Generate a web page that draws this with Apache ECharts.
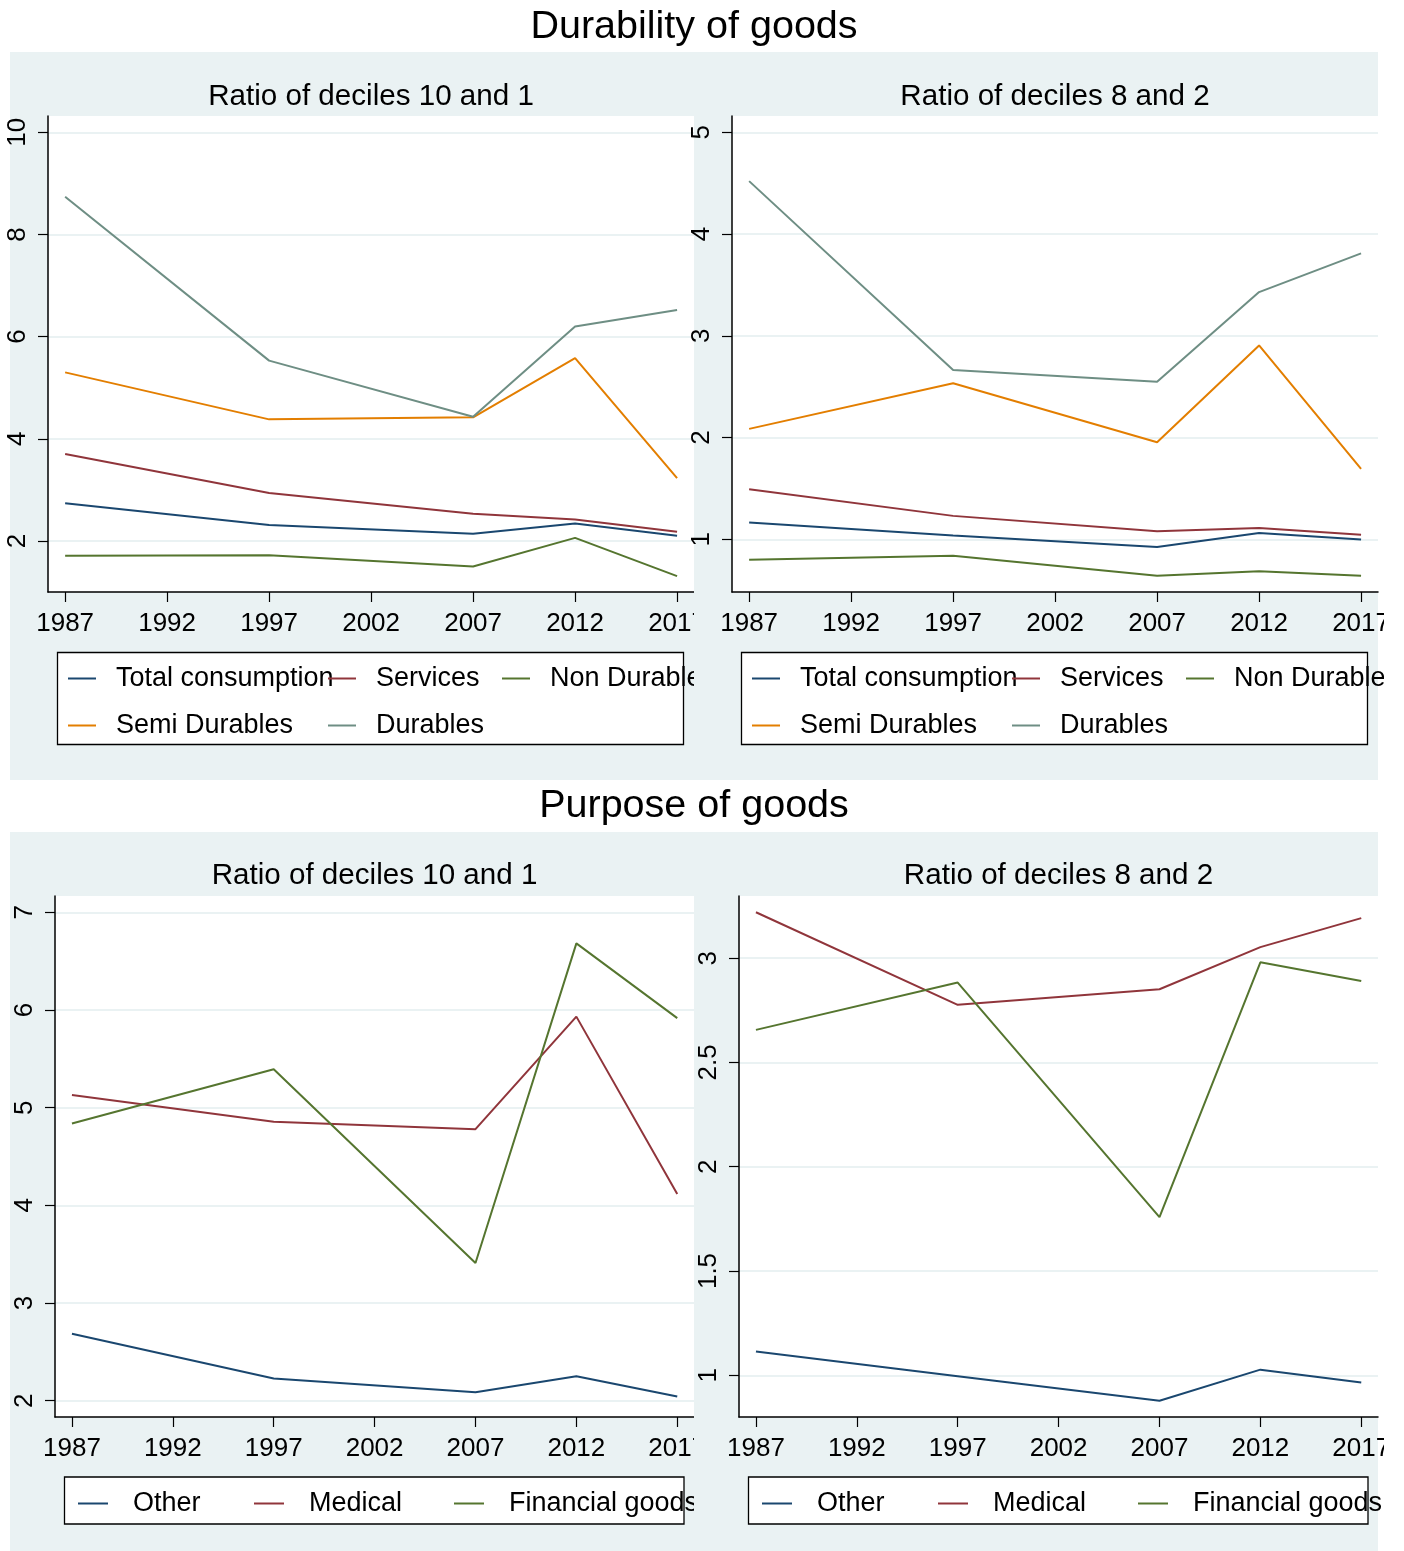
<!DOCTYPE html>
<html><head><meta charset="utf-8">
<script src="https://cdn.jsdelivr.net/npm/echarts@6/dist/echarts.min.js"></script>
<style>
html,body{margin:0;padding:0;background:#fff;}
#page{position:relative;width:1404px;height:1551px;overflow:hidden;}
.pane{position:absolute;overflow:hidden;}
</style></head><body>
<div id="page">
 <div id="bg" class="pane" style="left:0;top:0;width:1404px;height:1551px"></div>
 <div id="tl" class="pane" style="left:0;top:52px;width:694px;height:728px"></div>
 <div id="tr" class="pane" style="left:690px;top:52px;width:694px;height:728px"></div>
 <div id="bl" class="pane" style="left:0;top:832px;width:694px;height:719px"></div>
 <div id="br" class="pane" style="left:690px;top:832px;width:694px;height:719px"></div>
</div>
<script>
// ---------- data ----------
const years = [1987, 1997, 2007, 2012, 2017];
const xTicks = [1987, 1992, 1997, 2002, 2007, 2012, 2017];

// Durability of goods, ratio of deciles 10 and 1
const dur101Total    = [2.74, 2.31, 2.14, 2.34, 2.10];
const dur101Services = [3.70, 2.94, 2.53, 2.42, 2.18];
const dur101NonDur   = [1.71, 1.72, 1.50, 2.06, 1.31];
const dur101SemiDur  = [5.30, 4.38, 4.42, 5.58, 3.23];
const dur101Durables = [8.74, 5.53, 4.43, 6.20, 6.52];
const dur101YTicks   = [2, 4, 6, 8, 10];

// Durability of goods, ratio of deciles 8 and 2
const dur82Total    = [1.166, 1.039, 0.925, 1.063, 1.000];
const dur82Services = [1.493, 1.231, 1.080, 1.111, 1.045];
const dur82NonDur   = [0.801, 0.839, 0.642, 0.687, 0.642];
const dur82SemiDur  = [2.086, 2.534, 1.955, 2.906, 1.693];
const dur82Durables = [4.520, 2.665, 2.550, 3.430, 3.810];
const dur82YTicks   = [1, 2, 3, 4, 5];

// Purpose of goods, ratio of deciles 10 and 1
const pur101Other     = [2.686, 2.227, 2.087, 2.250, 2.042];
const pur101Medical   = [5.129, 4.856, 4.780, 5.932, 4.117];
const pur101Financial = [4.837, 5.394, 3.409, 6.682, 5.917];
const pur101YTicks    = [2, 3, 4, 5, 6, 7];

// Purpose of goods, ratio of deciles 8 and 2
const pur82Other     = [1.114, 0.995, 0.878, 1.027, 0.965];
const pur82Medical   = [3.220, 2.776, 2.851, 3.053, 3.192];
const pur82Financial = [2.656, 2.883, 1.758, 2.980, 2.890];
const pur82YTicks    = [1, 1.5, 2, 2.5, 3];

const durNames = ['Total consumption', 'Services', 'Non Durables', 'Semi Durables', 'Durables'];
const purNames = ['Other', 'Medical', 'Financial goods'];

// ---------- style ----------
const FONT = "'Liberation Sans', Arial, Helvetica, sans-serif";
const BG = '#EAF2F3';
const GRIDC = '#EAF2F3';
const COL = {navy:'#1A476F', maroon:'#90353B', green:'#55752F', orange:'#E37E00', teal:'#6E8E84'};
const durColors = [COL.navy, COL.maroon, COL.green, COL.orange, COL.teal];
const purColors = [COL.navy, COL.maroon, COL.green];

function pairs(arr){ return years.map((y,i)=>[y, arr[i]]); }

// cfg coordinates are local to the pane
function makePanel(el, cfg){
  const chart = echarts.init(el, null, {renderer:'canvas'});
  const series = cfg.series.map((s,i)=>({
    type:'line', name:s.name, data:pairs(s.data), symbol:'none', showSymbol:false,
    lineStyle:{color:s.color, width:2}, itemStyle:{color:s.color}, z: 3+i, animation:false
  }));
  const legends = cfg.legendCols.map(c=>({
    data:c.names, orient:'vertical', left:c.left, top:cfg.legendTop, padding:0,
    itemGap:cfg.legendRowGap, icon:'rect', itemWidth:cfg.keyW, itemHeight:2,
    selectedMode:false, z:5,
    textStyle:{fontSize:27, fontFamily:FONT, color:'#000', lineHeight:26, padding:[0,0,0,cfg.keyPad]}
  }));
  chart.setOption({
    animation:false,
    title:{text:cfg.subtitle, left:cfg.grid.left + cfg.grid.width/2, top:cfg.subY, textAlign:'center', textVerticalAlign:'middle', padding:0,
      textStyle:{fontSize:29.6, fontWeight:'normal', fontFamily:FONT, color:'#000'}},
    graphic:[{type:'rect', z:1, shape:cfg.box, style:{fill:'#fff', stroke:'#000', lineWidth:1.3}}],
    legend:legends,
    grid:{left:cfg.grid.left, top:cfg.grid.top, width:cfg.grid.width, height:cfg.grid.height, show:true, backgroundColor:'#fff', borderWidth:0, containLabel:false, outerBoundsMode:'none'},
    xAxis:{type:'value', min:1986.16, max:2017.83,
      axisLine:{show:true, onZero:false, lineStyle:{color:'#000', width:1.5}},
      axisTick:{show:true, length:10, lineStyle:{color:'#000', width:1.2}, customValues:xTicks},
      axisLabel:{customValues:xTicks, formatter:v=>String(v), fontSize:26, fontFamily:FONT, color:'#000', margin:19},
      splitLine:{show:false}},
    yAxis:{type:'value', min:cfg.yMin, max:cfg.yMax,
      axisLine:{show:true, onZero:false, lineStyle:{color:'#000', width:1.5}},
      axisTick:{show:true, length:10, lineStyle:{color:'#000', width:1.2}, customValues:cfg.yTicks},
      axisLabel:{customValues:cfg.yTicks, rotate:90, fontSize:26, fontFamily:FONT, color:'#000', margin:17},
      splitLine:{show:true, lineStyle:{color:GRIDC, width:2}}},
    series:series
  });
  return chart;
}

// background and main titles
const bg = echarts.init(document.getElementById('bg'));
bg.setOption({
  animation:false,
  title:[
    {text:'Durability of goods', left:694, top:27, textAlign:'center', textVerticalAlign:'middle', padding:0,
     textStyle:{fontSize:39.5, fontWeight:'normal', fontFamily:FONT, color:'#000'}},
    {text:'Purpose of goods', left:694, top:806, textAlign:'center', textVerticalAlign:'middle', padding:0,
     textStyle:{fontSize:39.5, fontWeight:'normal', fontFamily:FONT, color:'#000'}}
  ],
  graphic:[
    {type:'rect', shape:{x:10, y:52, width:1368, height:728}, style:{fill:BG}},
    {type:'rect', shape:{x:10, y:832, width:1368, height:719}, style:{fill:BG}}
  ]
});

// pane x-offsets: left panes start at 0, right panes at 690 (so local = global - offset)
function panelLayout(ox, top){
  return top ? {
    grid:{left:48 - ox, top:64, width:646, height:476},
    box:{x:57.5 - ox, y:600.5, width:626, height:92},
    legendTop:613, durCols:[58 + 10 - ox, 318 + 10 - ox, 492 + 10 - ox]
  } : {
    grid:{left:55 - ox, top:64, width:639, height:521},
    box:{x:64.5 - ox, y:645, width:619.5, height:47},
    legendTop:658, purCols:[78 - ox, 254 - ox, 454 - ox]
  };
}

function durSeries(a){ return durNames.map((n,i)=>({name:n, data:a[i], color:durColors[i]})); }
function purSeries(a){ return purNames.map((n,i)=>({name:n, data:a[i], color:purColors[i]})); }

function durCols(L){ return [
  {names:[durNames[0], durNames[3]], left:L.durCols[0]},
  {names:[durNames[1], durNames[4]], left:L.durCols[1]},
  {names:[durNames[2]], left:L.durCols[2]}
];}
function purCols(L){ return [
  {names:[purNames[0]], left:L.purCols[0]},
  {names:[purNames[1]], left:L.purCols[1]},
  {names:[purNames[2]], left:L.purCols[2]}
];}

const LTL = panelLayout(0, true), LTR = panelLayout(-684 + 690, true);
const LBL = panelLayout(0, false), LBR = panelLayout(-684 + 690, false);

makePanel(document.getElementById('tl'), {
  subtitle:'Ratio of deciles 10 and 1', subY:45, grid:LTL.grid, yMin:1.0, yMax:10.32, yTicks:dur101YTicks,
  series:durSeries([dur101Total, dur101Services, dur101NonDur, dur101SemiDur, dur101Durables]),
  legendCols:durCols(LTL), legendTop:LTL.legendTop, legendRowGap:20, keyW:28, keyPad:15, box:LTL.box
});
makePanel(document.getElementById('tr'), {
  subtitle:'Ratio of deciles 8 and 2', subY:45, grid:LTR.grid, yMin:0.483, yMax:5.16, yTicks:dur82YTicks,
  series:durSeries([dur82Total, dur82Services, dur82NonDur, dur82SemiDur, dur82Durables]),
  legendCols:durCols(LTR), legendTop:LTR.legendTop, legendRowGap:20, keyW:28, keyPad:15, box:LTR.box
});
makePanel(document.getElementById('bl'), {
  subtitle:'Ratio of deciles 10 and 1', subY:44, grid:LBL.grid, yMin:1.833, yMax:7.167, yTicks:pur101YTicks,
  series:purSeries([pur101Other, pur101Medical, pur101Financial]),
  legendCols:purCols(LBL), legendTop:LBL.legendTop, legendRowGap:20, keyW:30, keyPad:20, box:LBL.box
});
makePanel(document.getElementById('br'), {
  subtitle:'Ratio of deciles 8 and 2', subY:44, grid:LBR.grid, yMin:0.8, yMax:3.298, yTicks:pur82YTicks,
  series:purSeries([pur82Other, pur82Medical, pur82Financial]),
  legendCols:purCols(LBR), legendTop:LBR.legendTop, legendRowGap:20, keyW:30, keyPad:20, box:LBR.box
});
</script>
</body></html>
